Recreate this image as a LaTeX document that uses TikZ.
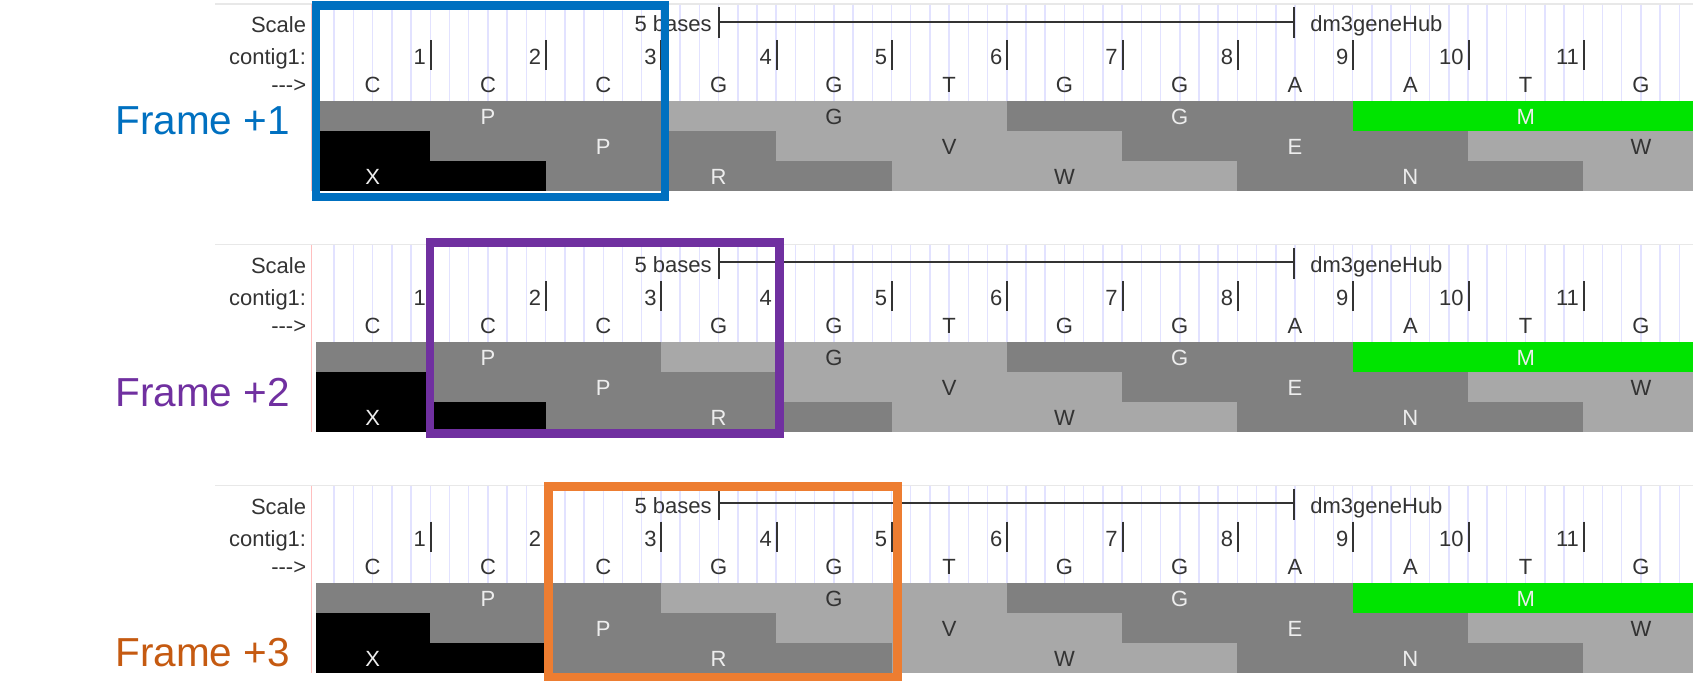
\documentclass[tikz,border=0pt]{standalone}
\usepackage{fontspec}
\newfontfamily\ucscfont{Liberation Sans}
\newfontfamily\framefont{Liberation Sans}
\usepackage{xcolor}
\usepackage{tikz}
\usetikzlibrary{positioning,calc}
\definecolor{frameblue}{HTML}{0070C0}
\definecolor{framepurple}{HTML}{7030A0}
\definecolor{frameorange}{HTML}{ED7D31}
\definecolor{frameorangetext}{HTML}{C55A11}
\definecolor{aadark}{HTML}{808080}
\definecolor{aalight}{HTML}{A8A8A8}
\definecolor{aagreen}{HTML}{00E400}
\definecolor{guideline}{HTML}{E2E2FF}
\definecolor{ucsctext}{HTML}{333333}
\tikzset{
  trackfont/.style={font=\ucscfont\fontsize{11}{13}\selectfont, text=ucsctext, inner sep=0pt},
  trackleft/.style={trackfont, anchor=base east},
  trackright/.style={trackfont, anchor=base west},
  aaletter/.style={trackfont, anchor=base},
  aaondark/.style={aaletter, text=white!93!black},
  framelabel/.style={font=\framefont\fontsize{20.25}{24}\selectfont, anchor=base west, inner sep=0pt},
  framebox/.style={line width=4.4pt},
  tickmark/.style={draw=ucsctext, line width=1pt},
}

\begin{document}
\begin{tikzpicture}[x=0.5pt, y=-0.5pt]
  \useasboundingbox (0,0) rectangle (1693,700);
  % Three copies of the same browser track
  \foreach \p/\dy in {1/0, 2/240.8, 3/481.6} {
    \begin{scope}[shift={(0,\dy)}]
      % frame rule, left edge and base guides
      \draw[gray!18, line width=0.6pt] (215,4) -- (1693,4);
      \draw[red!25, line width=0.75pt] (311.7,4) -- (311.7,191);
      \foreach \j in {1,...,71}
        \draw[guideline, line width=0.75pt] ({315+\j*115.3/6},4.6) -- ({315+\j*115.3/6},101.5);

      % amino acid rows
      \foreach \r/\s/\e/\c in {0/0/3/aadark, 0/3/6/aalight, 0/6/9/aadark, 0/9/12/aagreen,
          1/-1/1/black, 1/1/4/aadark, 1/4/7/aalight, 1/7/10/aadark, 1/10/13/aalight,
          2/-1/2/black, 2/2/5/aadark, 2/5/8/aalight, 2/8/11/aadark, 2/11/14/aalight}
        \fill[\c] ({max(316,315+\s*115.3)},{101.5+\r*29.8}) rectangle ({min(1693,315+\e*115.3)},{131.3+\r*29.8});
      \foreach \r/\k/\t/\st in {0/1.5/P/aaondark, 0/4.5/G/aaletter, 0/7.5/G/aaondark, 0/10.5/M/aaondark,
          1/2.5/P/aaondark, 1/5.5/V/aaletter, 1/8.5/E/aaondark, 1/11.5/W/aaletter,
          2/0.5/X/aaondark, 2/3.5/R/aaondark, 2/6.5/W/aaletter, 2/9.5/N/aaondark}
        \node[\st] (aa-\p-\r-\t) at ({315+\k*115.3},{124.8+\r*29.8}) {\t};

      % labels on the left
      \node[trackleft] (scale-\p) at (306.5,32.5) {Scale};
      \node[trackleft] (contig-\p) at (306.5,64.5) {contig1:};
      \node[trackleft] (strand-\p) at (306.5,93) {--->};

      % scale bar
      \node[trackleft] (bases-\p) at (712,32) {5 bases};
      \node[trackright] (hub-\p) at (1310,32) {dm3geneHub};
      \coordinate (barL-\p) at (719.3,21.7);
      \coordinate (barR-\p) at (1294.3,21.7);
      \draw[tickmark] (barL-\p) -- (barR-\p);
      \draw[tickmark] ($(barL-\p)+(0,-14.7)$) -- ++(0,31);
      \draw[tickmark] ($(barR-\p)+(0,-14.7)$) -- ++(0,31);

      % positions and bases
      \foreach \k in {1,...,11} {
        \node[trackleft] (pos-\p-\k) at ({315+\k*115.3-4},64.5) {\k};
        \draw[tickmark] ({315.5+\k*115.3},40) -- ++(0,30);
      }
      \foreach \b [count=\i] in {C,C,C,G,G,T,G,G,A,A,T,G}
        \node[aaletter] (base-\p-\i) at ({315+(\i-0.5)*115.3},93) {\b};
    \end{scope}
  }

  % Reading frame labels
  \node[framelabel, text=frameblue] (frame1) at (115,135) {Frame +1};
  \node[framelabel, text=framepurple] (frame2) at (115,406.7) {Frame +2};
  \node[framelabel, text=frameorangetext] (frame3) at (115,666.7) {Frame +3};

  % Highlighted codons
  \draw[framebox, frameblue] (316,5.5) rectangle (665,197);
  \draw[framebox, framepurple] (430,242.8) rectangle (779.5,433.3);
  \draw[framebox, frameorange] (548.8,486.5) rectangle (897.5,677);
\end{tikzpicture}
\end{document}
